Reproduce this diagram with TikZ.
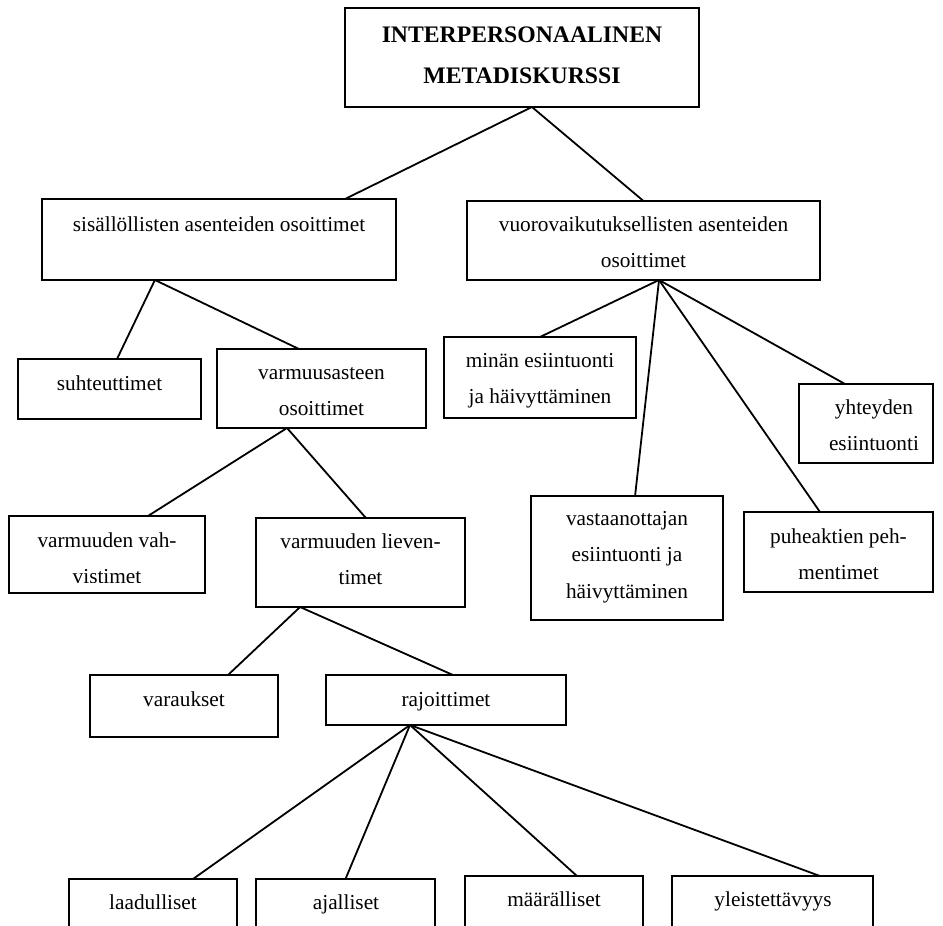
\documentclass[tikz,border=0pt]{standalone}
\usepackage{fontspec}
\setmainfont{Liberation Serif}
\usetikzlibrary{calc}

\tikzset{
  box/.style={draw, rectangle, line width=1.8pt, inner sep=0pt, outer sep=0pt},
  % labels are placed by the baseline of their last line
  lbl/.style={anchor=base, align=center, inner sep=0pt,
              font=\fontsize{21.3}{36.8}\selectfont},
  ttl/.style={anchor=base, align=center, inner sep=0pt,
              font=\fontsize{23.7}{41}\selectfont\bfseries},
  link/.style={line width=1.8pt},
}

% \treebox{name}{left}{right}{top}{bottom}
\newcommand\treebox[5]{%
  \node[box, minimum width={(#3-#2)*1pt}, minimum height={(#5-#4)*1pt}]
    (#1) at ({(#2+#3)/2},{(#4+#5)/2}) {};}

\begin{document}
\begin{tikzpicture}[x=1pt, y=-1pt]
\useasboundingbox (0,0) rectangle (943,926);
\clip (0,0) rectangle (943,926);

% boxes
\treebox{top}{345}{699}{8}{107}
\treebox{sis}{42}{396}{199}{280}
\treebox{vuo}{467}{820}{201}{280}
\treebox{suh}{18}{201}{359}{419}
\treebox{vas}{217}{426}{349}{428}
\treebox{min}{444}{636}{337}{418}
\treebox{yht}{799}{933}{384}{463}
\treebox{vst}{531}{723}{496}{620}
\treebox{puh}{744}{933}{512}{592}
\treebox{vah}{9}{205}{516}{593}
\treebox{lie}{256}{465}{518}{607}
\treebox{var}{90}{278}{675}{737}
\treebox{raj}{326}{566}{675}{725}
\treebox{laa}{69}{237}{879}{960}
\treebox{aja}{256}{435}{879}{960}
\treebox{maa}{465}{643}{876}{960}
\treebox{yle}{672}{873}{876}{960}

% labels
\node[ttl] (top-t) at (522,83) {INTERPERSONAALINEN\\METADISKURSSI};
\node[lbl] (sis-t) at (219,231) {sisällöllisten asenteiden osoittimet};
\node[lbl] (vuo-t) at (643.5,267.8) {vuorovaikutuksellisten asenteiden\\osoittimet};
\node[lbl] (suh-t) at (109.5,390) {suhteuttimet};
\node[lbl] (vas-t) at (321.5,415.8) {varmuusasteen\\osoittimet};
\node[lbl] (min-t) at (540,403.8) {minän esiintuonti\\ja häivyttäminen};
\node[lbl] (yht-t) at (874,450.8) {yhteyden\\esiintuonti};
\node[lbl] (vst-t) at (627,598.6) {vastaanottajan\\esiintuonti ja\\häivyttäminen};
\node[lbl] (puh-t) at (838.5,579.8) {puheaktien peh-\\mentimet};
\begin{scope}
  % the second line is cut off by the lower part of its box
  \clip (9,516) rectangle (205,582.5);
  \node[lbl] (vah-t) at (107,583.8) {varmuuden vah-\\vistimet};
\end{scope}
\node[lbl] (lie-t) at (360.5,584.8) {varmuuden lieven-\\timet};
\node[lbl] (var-t) at (184,706) {varaukset};
\node[lbl] (raj-t) at (446,706) {rajoittimet};
\node[lbl] (laa-t) at (153,909) {laadulliset};
\node[lbl] (aja-t) at (346,909) {ajalliset};
\node[lbl] (maa-t) at (554,906) {määrälliset};
\node[lbl] (yle-t) at (773,906) {yleistettävyys};

% attachment points on box edges
\coordinate (top-dn) at ($(top.south west)!0.528!(top.south east)$);
\coordinate (sis-up) at ($(sis.north west)!0.856!(sis.north east)$);
\coordinate (sis-dn) at ($(sis.south west)!0.319!(sis.south east)$);
\coordinate (suh-up) at ($(suh.north west)!0.541!(suh.north east)$);
\coordinate (vas-up) at ($(vas.north west)!0.392!(vas.north east)$);
\coordinate (vas-dn) at ($(vas.south west)!0.335!(vas.south east)$);
\coordinate (vah-up) at ($(vah.north west)!0.709!(vah.north east)$);
\coordinate (lie-up) at ($(lie.north west)!0.526!(lie.north east)$);
\coordinate (lie-dn) at ($(lie.south west)!0.211!(lie.south east)$);
\coordinate (var-up) at ($(var.north west)!0.734!(var.north east)$);
\coordinate (raj-up) at ($(raj.north west)!0.529!(raj.north east)$);
\coordinate (raj-dn) at ($(raj.south west)!0.35!(raj.south east)$);
\coordinate (laa-up) at ($(laa.north west)!0.738!(laa.north east)$);
\coordinate (maa-up) at ($(maa.north west)!0.629!(maa.north east)$);
\coordinate (yle-up) at ($(yle.north west)!0.736!(yle.north east)$);
\coordinate (vuo-dn) at ($(vuo.south west)!0.544!(vuo.south east)$);
\coordinate (vst-up) at ($(vst.north west)!0.542!(vst.north east)$);
\coordinate (puh-up) at ($(puh.north west)!0.402!(puh.north east)$);
\coordinate (yht-up) at ($(yht.north west)!0.343!(yht.north east)$);

% connectors
\draw[link] (top-dn) -- (sis-up);
\draw[link] (top-dn) -- (vuo.north);
\draw[link] (sis-dn) -- (suh-up);
\draw[link] (sis-dn) -- (vas-up);
\draw[link] (vas-dn) -- (vah-up);
\draw[link] (vas-dn) -- (lie-up);
\draw[link] (lie-dn) -- (var-up);
\draw[link] (lie-dn) -- (raj-up);
\draw[link] (raj-dn) -- (laa-up);
\draw[link] (raj-dn) -- (aja.north);
\draw[link] (raj-dn) -- (maa-up);
\draw[link] (raj-dn) -- (yle-up);
\draw[link] (vuo-dn) -- (min.north);
\draw[link] (vuo-dn) -- (vst-up);
\draw[link] (vuo-dn) -- (puh-up);
\draw[link] (vuo-dn) -- (yht-up);
\end{tikzpicture}
\end{document}
